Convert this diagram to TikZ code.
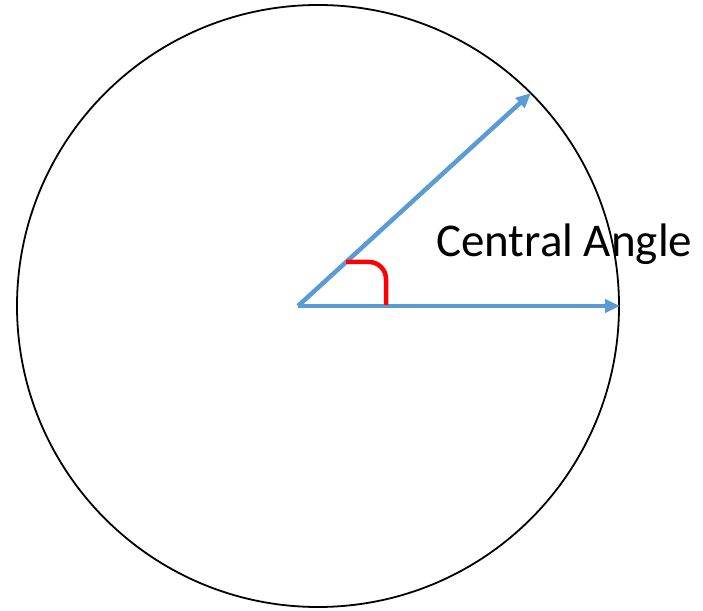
\documentclass[tikz,border=0pt]{standalone}
\usepackage{fontspec}
\setmainfont{Carlito}
\usetikzlibrary{arrows.meta,positioning}
\definecolor{RayBlue}{HTML}{5B9BD5}
\definecolor{MarkRed}{HTML}{FF0000}
\tikzset{
  ray/.style={-{Triangle[length=15pt,width=13pt]},line width=4.5pt,draw=RayBlue},
  anglemark/.style={line width=4.5pt,draw=MarkRed,rounded corners=17pt},
  rim/.style={draw=black,line width=1.8pt}
}
\begin{document}
\begin{tikzpicture}[x=1pt,y=1pt]
  \useasboundingbox (0,0) rectangle (703,610);
  \draw[rim] (318,304) circle (301);
  \coordinate (vertex) at (298,304);
  \coordinate (tipA) at (620,304);
  \coordinate (tipB) at (531,517);
  \draw[ray] (vertex)--(tipA);\draw[ray] (vertex)--(tipB);
  \coordinate (markstart) at (346,348);
  \coordinate (markend) at (386,305);
  \draw[anglemark] (markstart)--(markstart -| markend)--(markend);
  \node[anchor=base west,inner sep=0pt,font=\fontsize{47}{52}\selectfont] (label) at (436,353) {Central Angle};
\end{tikzpicture}
\end{document}
